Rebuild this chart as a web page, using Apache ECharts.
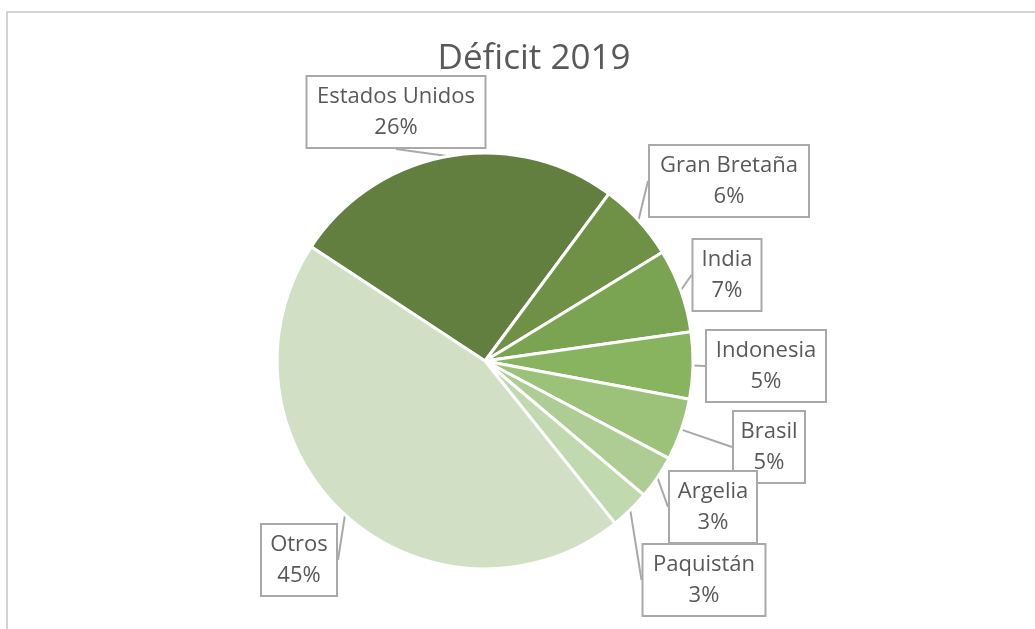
<!DOCTYPE html>
<html>
<head>
<meta charset="utf-8">
<title>Déficit 2019</title>
<script src="https://cdn.jsdelivr.net/npm/echarts@6/dist/echarts.min.js"></script>
<style>
  html, body { margin: 0; padding: 0; background: #ffffff; }
  #chart { width: 1035px; height: 629px; }
</style>
</head>
<body>
<div id="chart"></div>
<script>
// Share of the 2019 deficit by country (percent)
const countries = ['Estados Unidos', 'Gran Bretaña', 'India', 'Indonesia', 'Brasil', 'Argelia', 'Paquistán', 'Otros'];
const shares = [25.9, 6.1, 6.5, 5.2, 4.8, 3.4, 3.1, 45.0];
const sliceColors = ['#637f3f', '#6f9146', '#7ba452', '#88b35f', '#9bc278', '#aecd94', '#c1d9ae', '#d1e0c4'];

// Callout boxes: centre point and outer width of each label box
const callouts = {
  'Estados Unidos': { x: 396, y: 112, w: 181 },
  'Gran Bretaña':   { x: 729, y: 181, w: 162 },
  'India':          { x: 727, y: 275, w: 71 },
  'Indonesia':      { x: 766, y: 366, w: 122 },
  'Brasil':         { x: 769, y: 447, w: 74 },
  'Argelia':        { x: 713, y: 507, w: 90 },
  'Paquistán':      { x: 704, y: 580, w: 125 },
  'Otros':          { x: 299, y: 560, w: 78 }
};

const textColor = '#595959';
const fontFamily = '"Open Sans", "Noto Sans", sans-serif';

const chart = echarts.init(document.getElementById('chart'), null, { renderer: 'canvas' });

const pieData = countries.map((name, i) => ({
  name: name,
  value: shares[i],
  itemStyle: { color: sliceColors[i] },
  label: { width: callouts[name].w - 4 }
}));

chart.setOption({
  animation: false,
  backgroundColor: '#ffffff',
  title: {
    text: 'Déficit 2019',
    left: 529,
    top: 37,
    textAlign: 'center',
    textStyle: { fontFamily: fontFamily, fontSize: 35, fontWeight: 'normal', color: textColor }
  },
  graphic: [{
    // chart-area frame
    type: 'rect',
    shape: { x: 7, y: 12, width: 1100, height: 700 },
    style: { fill: 'none', stroke: '#d3d3d3', lineWidth: 2 },
    silent: true,
    z: 0
  }],
  series: [{
    type: 'pie',
    center: [485, 361],
    radius: 208,
    startAngle: 146.7,
    clockwise: true,
    avoidLabelOverlap: false,
    itemStyle: { borderColor: '#ffffff', borderWidth: 3 },
    label: {
      show: true,
      position: 'outside',
      formatter: p => p.name + '\n' + Math.round(p.percent) + '%',
      fontFamily: fontFamily,
      fontSize: 22,
      lineHeight: 31,
      color: textColor,
      align: 'center',
      backgroundColor: '#ffffff',
      borderColor: '#a9a9a9',
      borderWidth: 2,
      padding: [4, 0, 4, 0]
    },
    labelLine: {
      show: true,
      length: 6,
      length2: 0,
      smooth: false,
      lineStyle: { color: '#a9a9a9', width: 2 }
    },
    labelLayout: function (params) {
      const c = callouts[countries[params.dataIndex]];
      return { x: c.x, y: c.y, align: 'center', verticalAlign: 'middle' };
    },
    data: pieData
  }]
});
</script>
</body>
</html>
